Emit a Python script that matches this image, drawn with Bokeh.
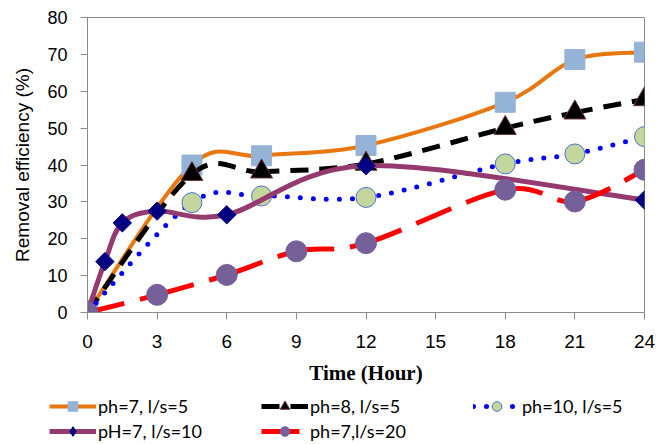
import math
from bokeh.plotting import figure
from bokeh.models import Range1d, FixedTicker, Legend, LegendItem
from bokeh.embed import file_html
from bokeh.resources import INLINE

# ---- data ----
x_a = [0, 4.5, 7.5, 12, 18, 21, 24]
y_ph7_ls5 = [0, 40.0, 42.5, 45.3, 57.0, 68.6, 70.6]
y_ph8_ls5 = [0, 37.5, 38.2, 40.3, 50.0, 54.2, 57.8]
y_ph10_ls5 = [0, 29.8, 31.6, 31.2, 40.3, 43.0, 47.7]

x_b = [0, 0.75, 1.5, 3, 6, 12, 24]
y_ph7_ls10 = [0, 13.8, 24.3, 27.5, 26.5, 39.8, 30.5]

x_c = [0, 3, 6, 9, 12, 18, 21, 24]
y_ph7_ls20 = [0, 4.8, 10.2, 16.6, 18.8, 33.3, 30.1, 38.7]

labels = ["ph=7, l/s=5", "ph=8, l/s=5", "ph=10, l/s=5", "pH=7, l/s=10", "ph=7,l/s=20"]
x_ticks = [0, 3, 6, 9, 12, 15, 18, 21, 24]
y_ticks = [0, 10, 20, 30, 40, 50, 60, 70, 80]


def smooth_segments(xs, ys):
    """Cubic Bezier control points (Catmull-Rom style, like Excel smoothed lines)."""
    n = len(xs)
    d = dict(x0=[], y0=[], x1=[], y1=[], cx0=[], cy0=[], cx1=[], cy1=[])
    for i in range(n - 1):
        a = i - 1 if i > 0 else i
        b = i + 2 if i + 2 < n else i + 1
        d["x0"].append(xs[i]); d["y0"].append(ys[i])
        d["x1"].append(xs[i + 1]); d["y1"].append(ys[i + 1])
        d["cx0"].append(xs[i] + (xs[i + 1] - xs[a]) / 6.0)
        d["cy0"].append(ys[i] + (ys[i + 1] - ys[a]) / 6.0)
        d["cx1"].append(xs[i + 1] - (xs[b] - xs[i]) / 6.0)
        d["cy1"].append(ys[i + 1] - (ys[b] - ys[i]) / 6.0)
    return d


H_MAIN = 392
H_LEG = 444 - H_MAIN

p = figure(width=664, height=H_MAIN, output_backend="svg", toolbar_location=None,
           x_range=Range1d(0, 24), y_range=Range1d(0, 80))
p.min_border_left = 87
p.min_border_right = 20
p.min_border_top = 17
p.min_border_bottom = H_MAIN - 312
p.background_fill_color = "white"
p.border_fill_color = "white"
p.outline_line_color = "#8a8a8a"
p.outline_line_width = 1
p.xgrid.visible = False
p.ygrid.visible = False

series = [
    dict(x=x_a, y=y_ph7_ls5, lc="#E8770F", lw=4, dash="solid", marker="square", size=20,
         angle=0, leg_marker="square", fc="#95B3D7", mlc="#95B3D7"),
    dict(x=x_a, y=y_ph8_ls5, lc="#000000", lw=5, dash="18 11", marker="triangle", size=22,
         angle=0, leg_marker="triangle", fc="#000000", mlc="#6b3a3a"),
    dict(x=x_a, y=y_ph10_ls5, lc="#0000FF", lw=5, dash="0 13", marker="circle", size=20,
         angle=0, leg_marker="circle", fc="#C3D69B", mlc="#4F6FD0"),
    dict(x=x_b, y=y_ph7_ls10, lc="#953A6E", lw=5, dash="solid", marker="square", size=13,
         angle=math.pi / 4, leg_marker="diamond", fc="#000080", mlc="#000080"),
    dict(x=x_c, y=y_ph7_ls20, lc="#FF0000", lw=5, dash="38 16", marker="circle", size=21,
         angle=0, leg_marker="circle", fc="#76609A", mlc="#76609A"),
]

# legend-only figure under the chart
pl = figure(width=664, height=H_LEG, output_backend="svg", toolbar_location=None,
            x_range=Range1d(0, 1), y_range=Range1d(0, 1),
            x_axis_type=None, y_axis_type=None)
pl.min_border = 0
pl.outline_line_color = None
pl.xgrid.visible = False
pl.ygrid.visible = False
pl.background_fill_color = "white"
pl.border_fill_color = "white"

items = []
for s, lab in zip(series, labels):
    segs = smooth_segments(s["x"], s["y"])
    cap = "round" if s["dash"] == "0 13" else "butt"
    p.bezier(x0="x0", y0="y0", x1="x1", y1="y1", cx0="cx0", cy0="cy0", cx1="cx1", cy1="cy1",
             source=segs, line_color=s["lc"], line_width=s["lw"], line_dash=s["dash"],
             line_cap=cap)
    p.scatter(x=s["x"], y=s["y"], marker=s["marker"], size=s["size"], angle=s["angle"],
              fill_color=s["fc"], line_color=s["mlc"], line_width=1)
    # legend swatches: one point outside the visible range, they only carry the style
    ll = pl.line(x=[-10, -9], y=[-10, -10], line_color=s["lc"], line_width=s["lw"],
                 line_dash=s["dash"], line_cap=cap)
    lm = pl.scatter(x=[-10], y=[-10], marker=s["leg_marker"], fill_color=s["fc"],
                    line_color=s["mlc"], line_width=1)
    items.append(LegendItem(label=lab, renderers=[ll, lm]))

# axes
p.xaxis.ticker = FixedTicker(ticks=x_ticks)
p.yaxis.ticker = FixedTicker(ticks=y_ticks)
for ax in (p.xaxis[0], p.yaxis[0]):
    ax.axis_line_color = "#8a8a8a"
    ax.major_tick_line_color = "#8a8a8a"
    ax.minor_tick_line_color = None
    ax.major_tick_in = 0
    ax.major_tick_out = 7
    ax.major_label_text_color = "black"
    ax.axis_label_text_color = "black"

p.yaxis.major_label_text_font = "Liberation Sans"
p.yaxis.major_label_text_font_size = "18px"
p.yaxis.major_label_standoff = 13
p.yaxis.axis_label = "Removal efficiency (%)"
p.yaxis.axis_label_text_font = "Liberation Sans"
p.yaxis.axis_label_text_font_style = "normal"
p.yaxis.axis_label_text_font_size = "19px"
p.yaxis.axis_label_standoff = 11

p.xaxis.major_label_text_font = "Liberation Sans"
p.xaxis.major_label_text_font_size = "19px"
p.xaxis.major_label_standoff = 15
p.xaxis.axis_label = "Time (Hour)"
p.xaxis.axis_label_text_font = "Liberation Serif"
p.xaxis.axis_label_text_font_style = "bold"
p.xaxis.axis_label_text_font_size = "21px"
p.xaxis.axis_label_standoff = 10

common = dict(orientation="horizontal", label_text_font="Lato", label_text_font_size="18px",
              label_text_color="black",
              glyph_width=47, glyph_height=24, label_standoff=2,
              label_width=160, spacing=3, padding=1, margin=0,
              border_line_color=None, background_fill_alpha=0)
leg1 = Legend(items=items[:3], location=(49, H_LEG - 26), **common)
leg2 = Legend(items=items[3:], location=(49, H_LEG - 51), **common)
pl.add_layout(leg1, "center")
pl.add_layout(leg2, "center")

open("out.html", "w").write(file_html([p, pl], INLINE))
